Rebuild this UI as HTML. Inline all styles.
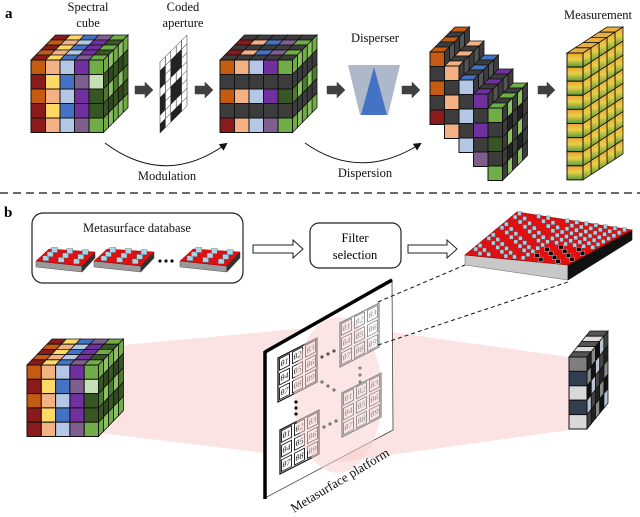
<!DOCTYPE html>
<html><head><meta charset="utf-8">
<style>
html,body{margin:0;padding:0;background:#fff;}
svg{display:block;font-family:"Liberation Serif",serif;}
</style></head>
<body>
<svg id="s" width="640" height="517" viewBox="0 0 640 517" xmlns="http://www.w3.org/2000/svg">
<defs>
<linearGradient id="meas" x1="0" y1="0" x2="0" y2="1">
<stop offset="0" stop-color="#f0a030"/><stop offset="0.45" stop-color="#e8d048"/><stop offset="1" stop-color="#5a9a38"/>
</linearGradient>
<marker id="ah" markerWidth="8" markerHeight="8" refX="6" refY="4" orient="auto" markerUnits="userSpaceOnUse">
<path d="M0,0 L8,4 L0,8 Z" fill="#111"/></marker>
</defs>
<text x="5" y="18" font-size="15" font-weight="bold">a</text>
<text x="4" y="217" font-size="15" font-weight="bold">b</text>
<g font-size="12.5" text-anchor="middle" fill="#111">
<text x="88" y="11">Spectral</text><text x="88" y="27">cube</text>
<text x="183" y="11">Coded</text><text x="183" y="27">aperture</text>
<text x="375" y="42">Disperser</text>
<text x="598" y="19">Measurement</text>
<text x="167" y="180">Modulation</text>
<text x="365" y="177">Dispersion</text>
</g>
<line x1="0" y1="193" x2="640" y2="193" stroke="#111" stroke-width="1.3" stroke-dasharray="8,5"/>
<path d="M105,143 Q165,188 226,144" fill="none" stroke="#111" stroke-width="1" marker-end="url(#ah)"/>
<path d="M305,143 Q360,182 420,144" fill="none" stroke="#111" stroke-width="1" marker-end="url(#ah)"/>
<g id="dyn"></g>
</svg>
<script>
var NS="http://www.w3.org/2000/svg";
var root=document.getElementById("dyn");
function el(t,a,p){var e=document.createElementNS(NS,t);for(var k in a)e.setAttribute(k,a[k]);(p||root).appendChild(e);return e;}
function poly(pts,fill,stroke,sw,p){return el("polygon",{points:pts.map(function(q){return q[0].toFixed(1)+","+q[1].toFixed(1)}).join(" "),fill:fill,stroke:stroke||"#111","stroke-width":sw==null?0.8:sw},p);}
var OR="#c55a11",DR="#8b1a1a",PE="#f4b183",YE="#ffd966",LB="#b4c7e7",BL="#4472c4",PU="#7030a0",MA="#7f5f8f",GR="#70ad47",LG="#c5e0b4",DG="#375623",DK="#3c3c3c";
var grid1=[[OR,PE,LB,PU,GR],[DR,YE,BL,MA,LG],[OR,PE,LB,PU,DG],[DR,YE,BL,PU,DG],[DR,PE,LB,MA,GR]];
var grid2=[[OR,PE,LB,PU,GR],[DK,DK,DK,DK,DK],[OR,PE,LB,PU,DG],[DK,DK,DK,DK,DK],[DR,PE,LB,MA,GR]];
var sideG=[GR,DG,"#4e7a30",DG,GR];
function cube(x0,y0,s,g,layers,ddx,ddy,topCols,sideCols,sw){
 var w=sw||s;
 var m=g.length,n=g[0].length,x1=x0+n*w;
 for(var k=layers-1;k>=0;k--){
  for(var c=0;c<n;c++){
   var col=topCols?topCols(k,c):g[(k+1)%m][c];
   poly([[x0+c*w+k*ddx,y0+k*ddy],[x0+(c+1)*w+k*ddx,y0+k*ddy],[x0+(c+1)*w+(k+1)*ddx,y0+(k+1)*ddy],[x0+c*w+(k+1)*ddx,y0+(k+1)*ddy]],col);
  }
  for(var r=0;r<m;r++){
   var col2=sideCols?sideCols(k,r):g[r][n-1];
   poly([[x1+k*ddx,y0+r*s+k*ddy],[x1+(k+1)*ddx,y0+r*s+(k+1)*ddy],[x1+(k+1)*ddx,y0+(r+1)*s+(k+1)*ddy],[x1+k*ddx,y0+(r+1)*s+k*ddy]],col2);
  }
 }
 for(var r=0;r<m;r++)for(var c=0;c<n;c++)
  el("rect",{x:x0+c*w,y:y0+r*s,width:w,height:s,fill:g[r][c],stroke:"#111","stroke-width":1});
}
var tgA=function(k,c){var rows=[[DR,YE,BL,MA,GR],[OR,PE,LB,PU,DG],[DR,YE,BL,PU,GR],[OR,PE,LB,PU,DG],[DR,YE,BL,MA,GR]];return rows[k][c];};
var sgA=function(k,r){return (k%2==0)?sideG[r]:(r%2?"#2f4a1e":"#8cc063");};
cube(31,60,14.5,grid1,5,4.9,-5,tgA,sgA);
(function(){
 var L=160,R=187,cols=5,rows=8;
 for(var c=0;c<cols;c++)for(var r=0;r<rows;r++){
  var u0=c/cols,u1=(c+1)/cols,v0=r/rows,v1=(r+1)/rows;
  function P(u,v){return [L+(R-L)*u, (62+(35-62)*u)+(71)*v];}
  var black=((c*3+r*5+ (c*r))%3)!=0;
  poly([P(u0,v0),P(u1,v0),P(u1,v1),P(u0,v1)],black?"#222":"#fff","#222",0.5);
 }
})();
var tgB=function(k,c){return (k%2==0)?DK:[DR,PE,BL,MA,GR][c];};
var sgB=function(k,r){return (r%2==1)?DK:((k%2)?"#8cc063":sideG[r]);};
cube(220,60,14.5,grid2,5,4.9,-5,tgB,sgB);
function barrow(x1,x2,y){poly([[x1,y-4],[x2-8,y-4],[x2-8,y-8],[x2,y],[x2-8,y+8],[x2-8,y+4],[x1,y+4]],"#404040","#404040",0.5);}
barrow(135,153,90);barrow(195,213,90);barrow(327,345,90);barrow(402,420,90);barrow(538,555,90);
poly([[348,65],[400,65],[388,115],[360,115]],"#adb9ca","none",0);
poly([[374,67],[387,115],[361,115]],"#4472c4","none",0);
var sl=[[OR,DK,OR,DK,DR],[PE,DK,PE,DK,PE],[LB,DK,LB,DK,LB],[PU,DK,PU,DK,MA],[GR,DK,DG,DK,GR]];
var tops=[OR,PE,BL,PU,GR];
for(var i=0;i<5;i++){
 var g=sl[i].map(function(c){return [c];});
 (function(i){
 cube(430+i*14.5,52+i*14,14.5,g,5,5,-5,function(k,c){return k%2?DK:tops[i];},function(k,r){return (k%2==0)?DK:(r%2?"#222":(i==4?"#8cc063":"#555"));});
 })(i);
}
(function(){
 var g=[];for(var r=0;r<9;r++)g.push(["url(#meas)"]);
 cube(567,53,14.1,g,5,8,-5.2,function(){return "#e8b040";},function(){return "url(#meas)";},16);
})();
// ===== part b =====
poly([[123,345],[340,325],[569,357],[569,430],[340,462],[100,433]],"#fbe3e3","none",0);
cube(27,365,14.3,grid1,5,5,-5.2,tgA,sgA);
poly([[265,352],[392,280],[393,430],[265,498]],"#fff","#444",0.8);
el("line",{x1:265,y1:352,x2:392,y2:280,stroke:"#000","stroke-width":3.5});
el("line",{x1:265,y1:351,x2:265,y2:499,stroke:"#000","stroke-width":3.5});
function tgrid(X,Y,col){
 var g=el("g",{transform:"matrix(1,-0.51,0,1,"+X+","+Y+")"});
 el("rect",{x:0,y:0,width:39,height:44,fill:"none",stroke:col,"stroke-width":1.3},g);
 for(var r=0;r<3;r++)for(var c=0;c<3;c++){
  el("rect",{x:c*13+1.5,y:r*14.6+1.5,width:10,height:11.6,fill:"none",stroke:col,"stroke-width":0.9},g);
  var t=el("text",{x:c*13+6.5,y:r*14.6+10,"font-size":8,"font-style":"italic","text-anchor":"middle",fill:col},g);
  t.textContent="θ"+(r*3+c+1);
 }
}
tgrid(278,358,"#111");tgrid(280,430,"#111");
el("ellipse",{cx:338,cy:395,rx:44,ry:78,fill:"#f8d0d0","fill-opacity":0.55});
tgrid(340,323,"#8a8a8a");tgrid(342,393,"#8a8a8a");
function dots(pts,col){pts.forEach(function(p){el("circle",{cx:p[0],cy:p[1],r:1.6,fill:col});});}
dots([[296,402],[296,408],[296,414]],"#111");
dots([[322,357],[328,354],[334,351]],"#555");
dots([[322,382],[328,386],[334,390]],"#777");
dots([[324,427],[330,424],[336,421]],"#777");
dots([[360,368],[360,375],[360,382]],"#888");
var pl=el("text",{x:0,y:0,"font-size":13,"text-anchor":"middle",transform:"translate(342,484) rotate(-31)",fill:"#111"});pl.textContent="Metasurface platform";
(function(){
 var g=[["#7f7f7f"],["#333f50"],["#d9d9d9"],["#333f50"],["#d9d9d9"]];
 var sc=["#222","#8a8a8a","#111","#b8c4d4","#444"];
 cube(569,357,14.4,g,5,4.2,-5.2,function(k){return k%2?"#ddd":"#555";},function(k,r){return sc[(k+r)%5];},18);
})();
el("line",{x1:378,y1:302,x2:465,y2:265,stroke:"#111","stroke-width":1,"stroke-dasharray":"4,3"});
el("line",{x1:378,y1:345,x2:568,y2:282,stroke:"#111","stroke-width":1,"stroke-dasharray":"4,3"});
el("rect",{x:32,y:213,width:211,height:70,rx:11,fill:"#fff",stroke:"#222","stroke-width":1.2});
var tt=el("text",{x:137,y:232,"font-size":12.5,"text-anchor":"middle",fill:"#111"});tt.textContent="Metasurface database";
function bil(a,b,c,d,u,v){ // a=left,d=bottom(front),b=top(back),c=right ; u along a->d, v along a->b
 return [a[0]+(d[0]-a[0])*u+(b[0]-a[0])*v+(c[0]-d[0]-b[0]+a[0])*u*v, a[1]+(d[1]-a[1])*u+(b[1]-a[1])*v+(c[1]-d[1]-b[1]+a[1])*u*v];}
function tile(x,w,y){
 var a=[x,y+14],b=[x+w*0.22,y+2],c=[x+w,y+5],d=[x+w*0.78,y+19];
 poly([a,d,[d[0],d[1]+6],[a[0],a[1]+6]],"#9a9a9a","#555",0.5);
 poly([d,c,[c[0],c[1]+6],[d[0],d[1]+6]],"#333","#333",0.5);
 poly([a,b,c,d],"#e01010","#900",0.5);
 for(var i=0;i<3;i++)for(var j=0;j<3;j++){
  var p=bil(a,b,c,d,(i+0.5)/3,(j+0.5)/3);
  el("rect",{x:p[0]-3,y:p[1]-4,width:6,height:5,fill:"#a8d4e6",stroke:"#456","stroke-width":0.4});
 }
}
tile(36,59,247);tile(94,60,247);tile(180,60,247);
dots([[160,261],[166,261],[172,261]],"#111");
function harrow(x1,x2,y){poly([[x1,y-4],[x2-10,y-4],[x2-10,y-9],[x2,y],[x2-10,y+9],[x2-10,y+4],[x1,y+4]],"#fff","#222",1);}
harrow(253,303,249);harrow(408,457,249);
el("rect",{x:310,y:223,width:91,height:45,rx:9,fill:"#fff",stroke:"#222","stroke-width":1.2});
var f1=el("text",{x:355,y:242,"font-size":12.5,"text-anchor":"middle"});f1.textContent="Filter";
var f2=el("text",{x:355,y:259,"font-size":12.5,"text-anchor":"middle"});f2.textContent="selection";
(function(){
 var L=[465,255],T=[517,212],R=[632,230],B=[568,265];
 poly([L,B,[568,280],[465,265]],"#c8c8c8","#777",0.6);
 poly([B,R,[632,240],[568,280]],"#111","#111",0.6);
 poly([L,T,R,B],"#e01010","#900",0.6);
 var N=12;
 for(var j=N-1;j>=0;j--)for(var i=0;i<N;i++){
  var u=(i+0.5)/N,v=(j+0.5)/N;
  if((i+j)%3==0&&u<0.5)continue;
  var p=bil(L,T,R,B,u,v);
  var blk=(u>0.55&&v<0.4);
  if(blk&&(i+j)%2)continue;
  el("rect",{x:p[0]-2,y:p[1]-3,width:blk?4.5:3.8,height:blk?4:4,fill:blk?"#000":"#a8d0e2",stroke:blk?"#fff":"#3a5060","stroke-width":0.35});
 }
})();
</script>
</body></html>
